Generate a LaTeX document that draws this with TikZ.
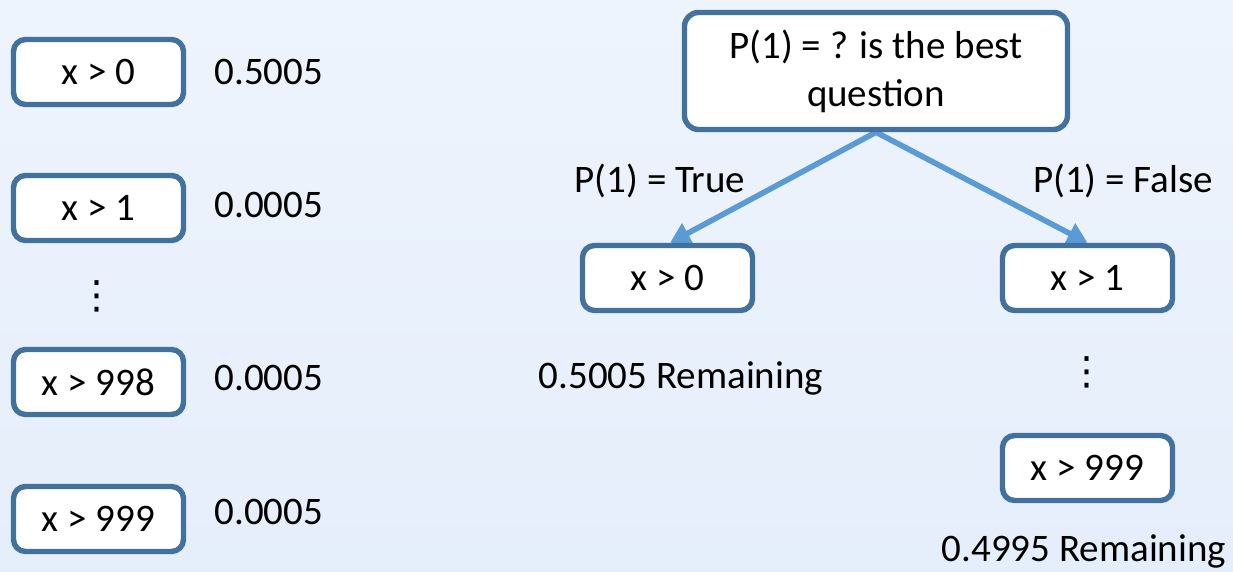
\documentclass[tikz,border=0pt]{standalone}
\usepackage{fontspec}
\setmainfont{Carlito}
\newfontfamily\symfont{DejaVu Sans}
\usetikzlibrary{positioning,arrows.meta}
\definecolor{boxline}{RGB}{65,113,156}
\definecolor{arrline}{RGB}{91,155,213}
\definecolor{bgtop}{RGB}{238,244,253}
\definecolor{bgbot}{RGB}{229,238,251}
\pgfdeclarelayer{bg}
\pgfdeclarelayer{mid}
\pgfsetlayers{bg,mid,main}
\tikzset{
  qbox/.style={draw=boxline,line width=2.7pt,fill=white,rounded corners=6pt,minimum width=85pt,minimum height=32.5pt,inner sep=0pt},
  bigbox/.style={qbox,rounded corners=7pt,minimum width=191.5pt,minimum height=58.5pt,align=center},
  val/.style={inner sep=0pt},
  lbl/.style={inner sep=0pt},
  dts/.style={inner sep=0pt,font=\symfont\fontsize{19.5}{24}\selectfont},
  arr/.style={-{Triangle[length=10pt,width=11pt]},line width=2.8pt,draw=arrline}
}

\begin{document}
\begin{tikzpicture}[x=0.5pt,y=-0.5pt,font=\fontsize{19.5}{24}\selectfont]
  \useasboundingbox (0,0) rectangle (1233,572);
  \begin{pgfonlayer}{bg}
    \fill[top color=bgtop,bottom color=bgbot] (0,0) rectangle (1233,572);
  \end{pgfonlayer}
  % left: every split with its share
  \node[qbox] (l0) at (98.5,72) {x > 0};
  \node[qbox] (l1) at (98.5,208) {x > 1};
  \node[dts] (ld) at (97,296) {⋮};
  \node[qbox] (l998) at (98.5,382) {x > 998};
  \node[qbox] (l999) at (98.5,519) {x > 999};
  \node[val,right=14pt of l0] (v0) {0.5005};
  \node[val,right=14pt of l1,yshift=1.5pt] (v1) {0.0005};
  \node[val,right=14pt of l998,yshift=2pt] (v998) {0.0005};
  \node[val,right=14pt of l999,yshift=3.5pt] (v999) {0.0005};
  % right: the tree
  \node[bigbox] (q) at (876,71) {P(1) = ? is the best\\question};
  \node[qbox] (t0) at (667.5,278) {x > 0};
  \node[qbox] (f1) at (1087.5,278) {x > 1};
  \node[dts] (fd) at (1087,372) {⋮};
  \node[qbox] (f999) at (1087.5,468) {x > 999};
  \node[lbl] (ty) at (660,181) {P(1) = True};
  \node[lbl] (fn) at (1123,181) {P(1) = False};
  \node[lbl] (rt) at (681,378) {0.5005 Remaining};
  \node[lbl] (rf) at (1084,551) {0.4995 Remaining};
  \begin{pgfonlayer}{mid}
    \draw[arr] (q.south) -- ([xshift=1.25pt]t0.north);
    \draw[arr] (q.south) -- (f1.north);
  \end{pgfonlayer}
\end{tikzpicture}
\end{document}
